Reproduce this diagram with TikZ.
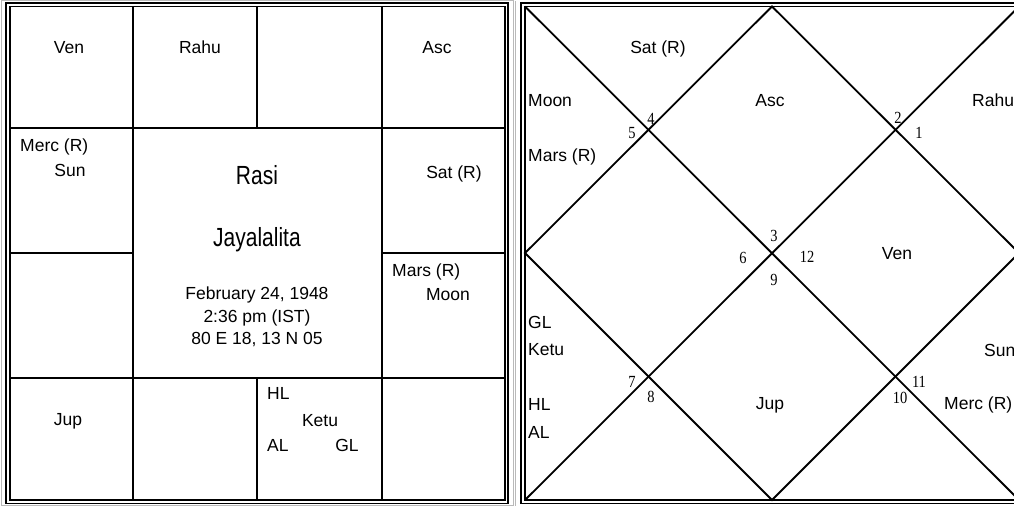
\documentclass[tikz,border=0pt]{standalone}
\usepackage{fontspec}
\setmainfont{Liberation Sans}
\newfontfamily\numfont{Liberation Serif}
\usepackage{graphicx}

\begin{document}
\begin{tikzpicture}[
        x=1pt, y=-1pt,
        every node/.style={
            inner sep=0pt,
            text height=12pt,
            text depth=0pt,
            font=\fontsize{17.5}{23}\selectfont
        },
        marco/.style={line width=1.8pt},
        linea/.style={line width=2.2pt},
        diag/.style={line width=1.8pt},
        grande/.style={font=\fontsize{21}{26}\selectfont, text height=19pt},
        casa/.style={font=\numfont\fontsize{17}{20}\selectfont, text height=11.5pt}
    ]
    \useasboundingbox (0,0) rectangle (1014,506);
    \clip (0,0) rectangle (1014,506);

    % Marcos
    \draw[gray!55, line width=1pt] (1,0.5) rectangle (513,505.5);
    \draw[marco] (6,3) rectangle (508,503.5);
    \draw[marco] (10,6.5) rectangle (505,500);

    % Rejilla (Rasi)
    \draw[linea] (133,6.5) -- (133,500);
    \draw[linea] (382,6.5) -- (382,500);
    \draw[linea] (257,6.5) -- (257,128);
    \draw[linea] (257,378) -- (257,500);
    \draw[linea] (10,128) -- (505,128);
    \draw[linea] (10,378) -- (505,378);
    \draw[linea] (10,253) -- (133,253);
    \draw[linea] (382,253) -- (505,253);

    % Casas (Rasi)
    \node (rven)  at (69,47)  {Ven};
    \node (rrahu) at (200,47) {Rahu};
    \node (rasc)  at (437,47) {Asc};
    \node[anchor=west] (rmerc) at (20,145) {Merc (R)};
    \node (rsun)  at (70,170) {Sun};
    \node (rsat)  at (454,172) {Sat (R)};
    \node[anchor=west] (rmars) at (392,270) {Mars (R)};
    \node (rmoon) at (448,294) {Moon};
    \node (rjup)  at (68,419) {Jup};
    \node[anchor=west] (rhl) at (267,393) {HL};
    \node (rketu) at (320,420) {Ketu};
    \node[anchor=west] (ral) at (267,445) {AL};
    \node (rgl)   at (347,445) {GL};

    % Centro
    \node[grande] (titulo) at (257,175) {\scalebox{1}[1.25]{Rasi}};
    \node[grande] (nombre) at (257,237) {\scalebox{1}[1.25]{Jayalalita}};
    \node (fecha) at (257,293) {February 24, 1948};
    \node (hora)  at (257,316) {2:36 pm (IST)};
    \node (lugar) at (257,338) {80 E 18, 13 N 05};

    % Marcos (Navamsa)
    \draw[gray!55, line width=1pt] (515,0.5) -- (515,505.5);
    \draw[marco] (521,3) rectangle (1023,503.5);
    \draw[marco] (525,6.5) rectangle (1019,500);

    % Vertices del diamante
    \coordinate (a) at (525,6.5);
    \coordinate (b) at (1019,6.5);
    \coordinate (c) at (1019,500);
    \coordinate (d) at (525,500);
    \coordinate (top)   at (772,6.5);
    \coordinate (right) at (1019,253);
    \coordinate (bot)   at (772,500);
    \coordinate (left)  at (525,253);

    % Lineas
    \draw[diag] (a) -- (c);
    \draw[diag] (d) -- (b);
    \draw[diag] (top) -- (right) -- (bot) -- (left) -- cycle;

    % Numeros de casa
    \node[casa] (h1)  at (919,133) {\scalebox{0.85}[1]{1}};
    \node[casa] (h2)  at (898,118) {\scalebox{0.85}[1]{2}};
    \node[casa] (h3)  at (774,236) {\scalebox{0.85}[1]{3}};
    \node[casa] (h4)  at (651,119) {\scalebox{0.85}[1]{4}};
    \node[casa] (h5)  at (632,133) {\scalebox{0.85}[1]{5}};
    \node[casa] (h6)  at (743,258) {\scalebox{0.85}[1]{6}};
    \node[casa] (h7)  at (632,382) {\scalebox{0.85}[1]{7}};
    \node[casa] (h8)  at (651,397) {\scalebox{0.85}[1]{8}};
    \node[casa] (h9)  at (774,280) {\scalebox{0.85}[1]{9}};
    \node[casa] (h10) at (900,398) {\scalebox{0.85}[1]{10}};
    \node[casa] (h11) at (919,382) {\scalebox{0.85}[1]{11}};
    \node[casa] (h12) at (807,257) {\scalebox{0.85}[1]{12}};

    % Planetas (Navamsa)
    \node (nsat)  at (658,47)  {Sat (R)};
    \node[anchor=west] (nmoon) at (528,100) {Moon};
    \node[anchor=west] (nmars) at (528,155) {Mars (R)};
    \node (nasc)  at (770,100) {Asc};
    \node[anchor=west] (nrahu) at (972,100) {Rahu};
    \node (nven)  at (897,253) {Ven};
    \node[anchor=west] (ngl)   at (528,322) {GL};
    \node[anchor=west] (nketu) at (528,349) {Ketu};
    \node[anchor=west] (nhl)   at (528,404) {HL};
    \node[anchor=west] (nal)   at (528,432) {AL};
    \node (njup)  at (770,403) {Jup};
    \node[anchor=west] (nsun)  at (984,350) {Sun};
    \node[anchor=west] (nmerc) at (944,403) {Merc (R)};

\end{tikzpicture}
\end{document}
